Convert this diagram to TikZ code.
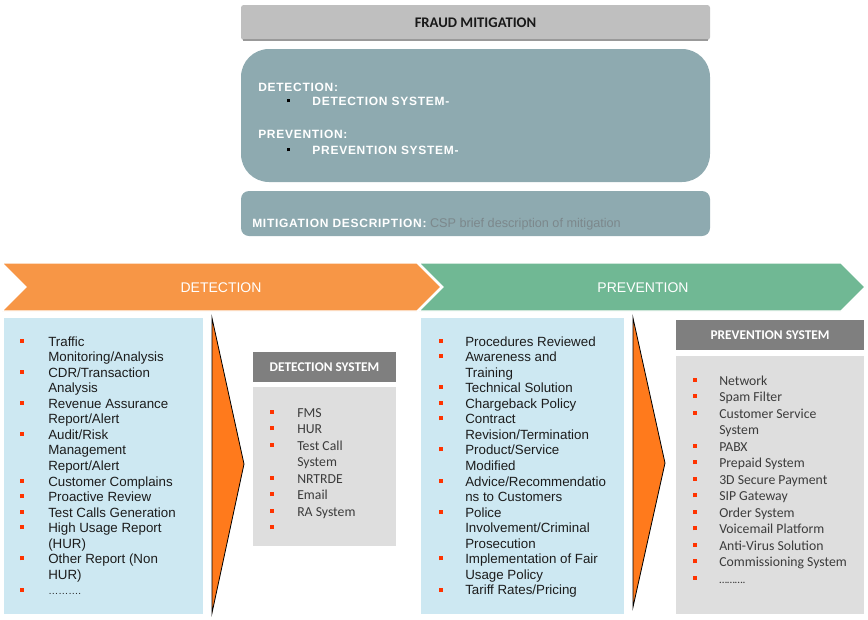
\documentclass[tikz,border=0pt]{standalone}
\usepackage{fontspec}
\setmainfont{Liberation Sans}
\newfontfamily\calfont{Carlito}
\newfontfamily\spacedfont[LetterSpace=6]{Liberation Sans}
\usetikzlibrary{positioning, calc}

\definecolor{titlegrey}{HTML}{BFBFBF}
\definecolor{slateteal}{HTML}{8EAAB0}
\definecolor{detorange}{HTML}{F79646}
\definecolor{prevgreen}{HTML}{70B894}
\definecolor{listblue}{HTML}{CDE8F2}
\definecolor{arroworange}{HTML}{FF7A1C}
\definecolor{hdrgrey}{HTML}{7F7F7F}
\definecolor{bodygrey}{HTML}{DEDEDE}
\definecolor{bulletred}{HTML}{FF3300}
\definecolor{desctext}{HTML}{7C888C}
\definecolor{listink}{HTML}{1C1C1C}
\definecolor{sysink}{HTML}{3C3C3C}

\newcommand{\sqb}{\textcolor{bulletred}{\rule[2.6pt]{3pt}{3pt}}}
\newcommand{\blk}{\textcolor{black}{\rule[2pt]{2.4pt}{2.4pt}}}

\begin{document}
\begin{tikzpicture}[x=0.75pt, y=-0.75pt]
    \tikzstyle{panel} = [anchor=north west, inner sep=0pt, outer sep=0pt]
    \tikzstyle{listtext} = [anchor=base west, inner sep=0pt, align=left]
    \tikzstyle{bluelist} = [listtext, text=listink, font=\fontsize{10}{11.67}\selectfont]
    \tikzstyle{greylist} = [listtext, text=sysink, font=\calfont\fontsize{10.3}{12.4}\selectfont]
    \tikzstyle{syshead} = [panel, fill=hdrgrey, minimum height=22.5pt, text=white, font=\calfont\bfseries\fontsize{10}{12}\selectfont]
    \tikzstyle{toptext} = [listtext, text=white, font=\spacedfont\bfseries\fontsize{9}{11}\selectfont]

    \useasboundingbox (0,0) rectangle (868,619);

    % fraud mitigation summary
    \node[panel, fill=titlegrey, rounded corners=2pt, minimum width=351.75pt, minimum height=26.25pt,
          text=black!90, font=\calfont\bfseries\fontsize{11}{13}\selectfont] (title) at (241,5) {FRAUD MITIGATION};
    \draw[black!40, line width=1pt] ($(title.south west)+(2,0)$) -- ($(title.south east)+(-2,0)$);

    \node[panel, fill=slateteal, rounded corners=21pt, minimum width=351.75pt, minimum height=99.75pt] (summary) at (241,49) {};
    \node[toptext] (detlbl) at (258,91) {DETECTION:};
    \node[toptext] (detsys) at (287,105) {\blk\hspace{16.5pt}DETECTION SYSTEM-};
    \node[toptext] (prevlbl) at (258,138) {PREVENTION:};
    \node[toptext] (prevsys) at (287,154) {\blk\hspace{16.5pt}PREVENTION SYSTEM-};

    \node[panel, fill=slateteal, rounded corners=6pt, minimum width=351.75pt, minimum height=33.75pt] (mitig) at (241,191) {};
    \node[listtext, text=white, font=\fontsize{9.5}{11}\selectfont] (mitlbl) at (252,227)
        {{\spacedfont\bfseries\fontsize{9}{11}\selectfont MITIGATION DESCRIPTION:} \textcolor{desctext}{CSP brief description of mitigation}};

    % phase chevrons
    \fill[detorange, draw=white, line width=1pt] (2,263) -- (417,263) -- (441,287) -- (417,311) -- (2,311) -- (26,287) -- cycle;
    \fill[prevgreen, draw=white, line width=1pt] (419,263) -- (841,263) -- (865,287) -- (841,311) -- (419,311) -- (443,287) -- cycle;
    \node[text=white, font=\fontsize{10.5}{12}\selectfont] (dethead) at (221,288) {DETECTION};
    \node[text=white, font=\fontsize{10.5}{12}\selectfont] (prevhead) at (643,288) {PREVENTION};

    % detection side
    \node[panel, fill=listblue, minimum width=149.25pt, minimum height=222pt] (detbox) at (4,318) {};
    \node[bluelist] (detitems) at (20,346) {\begin{tabular}[t]{@{}p{21pt}@{}l@{}}
        \sqb & Traffic\\
             & Monitoring/Analysis\\
        \sqb & CDR/Transaction\\
             & Analysis\\
        \sqb & Revenue Assurance\\
             & Report/Alert\\
        \sqb & Audit/Risk\\
             & Management\\
             & Report/Alert\\
        \sqb & Customer Complains\\
        \sqb & Proactive Review\\
        \sqb & Test Calls Generation\\
        \sqb & High Usage Report\\
             & (HUR)\\
        \sqb & Other Report (Non\\
             & HUR)\\
        \sqb & {\fontsize{7.5}{8}\selectfont ……….}
    \end{tabular}};

    \draw[fill=arroworange, line width=0.6pt] (212,318) -- (244,464) -- (212,613) -- cycle;

    \node[syshead, minimum width=107.25pt] (detsyshdr) at (253,352) {DETECTION SYSTEM};
    \node[panel, fill=bodygrey, minimum width=107.25pt, minimum height=119.25pt] (detsysbox) at (253,387) {};
    \node[greylist] (detsysitems) at (270,417) {\begin{tabular}[t]{@{}p{20.25pt}@{}l@{}}
        \sqb & FMS\\
        \sqb & HUR\\
        \sqb & Test Call\\
             & System\\
        \sqb & NRTRDE\\
        \sqb & Email\\
        \sqb & RA System\\
        \sqb &
    \end{tabular}};

    % prevention side
    \node[panel, fill=listblue, minimum width=152.25pt, minimum height=222pt] (prevbox) at (421,318) {};
    \node[bluelist] (previtems) at (439,346) {\begin{tabular}[t]{@{}p{19.5pt}@{}l@{}}
        \sqb & Procedures Reviewed\\
        \sqb & Awareness and\\
             & Training\\
        \sqb & Technical Solution\\
        \sqb & Chargeback Policy\\
        \sqb & Contract\\
             & Revision/Termination\\
        \sqb & Product/Service\\
             & Modified\\
        \sqb & Advice/Recommendatio\\
             & ns to Customers\\
        \sqb & Police\\
             & Involvement/Criminal\\
             & Prosecution\\
        \sqb & Implementation of Fair\\
             & Usage Policy\\
        \sqb & Tariff Rates/Pricing
    \end{tabular}};

    \draw[fill=arroworange, line width=0.6pt] (633,318) -- (665,463) -- (633,607) -- cycle;

    \node[syshead, minimum width=141pt] (prevsyshdr) at (676,320) {PREVENTION SYSTEM};
    \node[panel, fill=bodygrey, minimum width=141pt, minimum height=193.5pt] (prevsysbox) at (676,356) {};
    \node[greylist] (prevsysitems) at (693,385) {\begin{tabular}[t]{@{}p{19.5pt}@{}l@{}}
        \sqb & Network\\
        \sqb & Spam Filter\\
        \sqb & Customer Service\\
             & System\\
        \sqb & PABX\\
        \sqb & Prepaid System\\
        \sqb & 3D Secure Payment\\
        \sqb & SIP Gateway\\
        \sqb & Order System\\
        \sqb & Voicemail Platform\\
        \sqb & Anti-Virus Solution\\
        \sqb & Commissioning System\\
        \sqb & {\fontsize{8.5}{9}\selectfont ……….}
    \end{tabular}};
\end{tikzpicture}
\end{document}
